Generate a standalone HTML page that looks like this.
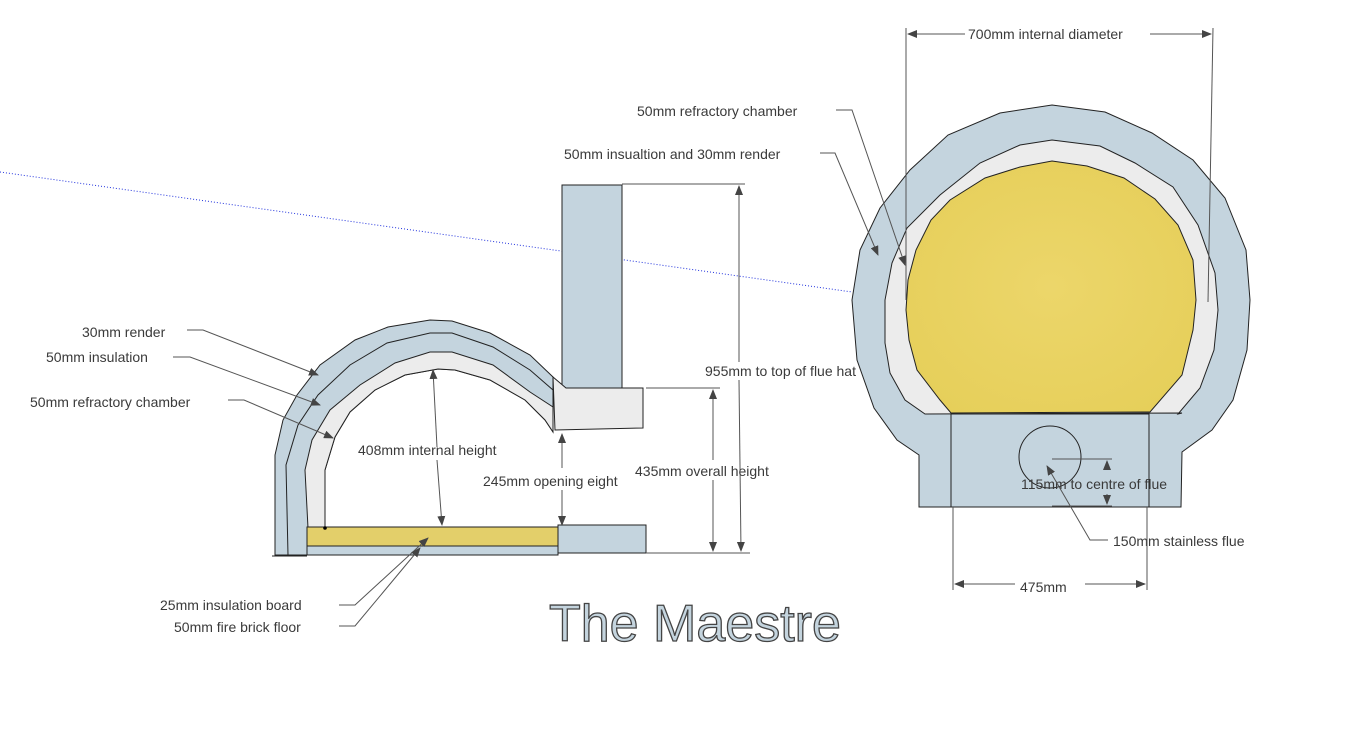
<!DOCTYPE html>
<html><head><meta charset="utf-8"><style>
html,body{margin:0;padding:0;background:#fff;}
svg{display:block;}
text{font-family:"Liberation Sans","DejaVu Sans",sans-serif;font-size:14px;fill:#3a3a3a;}
</style></head><body>
<svg width="1354" height="729" viewBox="0 0 1354 729" xmlns="http://www.w3.org/2000/svg">
<defs>
<marker id="a" markerWidth="10" markerHeight="8" refX="9" refY="4" orient="auto" markerUnits="userSpaceOnUse"><path d="M0,0 L10,4 L0,8 z" fill="#444"/></marker>
<radialGradient id="y" cx="50%" cy="50%" r="60%"><stop offset="0" stop-color="#ecd66a"/><stop offset="1" stop-color="#e6cf5a"/></radialGradient>
</defs>
<line x1="0" y1="172" x2="852" y2="292" stroke="#2233dd" stroke-width="1" stroke-dasharray="1,2"/>

<rect x="562" y="185" width="60" height="203" fill="#c4d4de" stroke="#222"/>
<path d="M275,555 L275,455 L283,420 L297,395 L320,365 L355,340 L388,327 L430,320 L452,321 L490,333 L530,355 L553,377 L553,432 L545,420 L525,400 L490,380 L455,370 L438,369 L405,375 L375,390 L350,412 L335,437 L325,470 L325,528 L307,528 L307,555 Z" fill="#c4d4de" stroke="#222"/>
<path d="M288,555 L286,465 L298,425 L318,395 L350,365 L387,343 L430,333 L452,333 L493,347 L530,370 L553,390" fill="none" stroke="#222"/>
<path d="M308,528 L305,470 L312,440 L330,410 L360,385 L395,363 L430,352 L452,352 L493,365 L530,392 L553,407 L553,432 L545,420 L525,400 L490,380 L455,370 L438,369 L405,375 L375,390 L350,412 L335,437 L325,470 L325,528 Z" fill="#ececec" stroke="#222"/>
<path d="M553,377 L566,388 L643,388 L643,428 L555,430 Z" fill="#ececec" stroke="#222"/>
<rect x="307" y="527" width="251" height="19" fill="#e3cf6a" stroke="#222"/>
<rect x="307" y="546" width="251" height="9" fill="#c4d4de" stroke="#222"/>
<rect x="558" y="525" width="88" height="28" fill="#c4d4de" stroke="#222"/>
<line x1="272" y1="556" x2="307" y2="556" stroke="#222"/>
<circle cx="325" cy="528" r="1.8" fill="#000"/>

<line x1="437" y1="447" x2="433" y2="370" stroke="#555" marker-end="url(#a)"/>
<line x1="437" y1="460" x2="442" y2="525" stroke="#555" marker-end="url(#a)"/>
<text x="358" y="455">408mm internal height</text>
<line x1="562" y1="468" x2="562" y2="434" stroke="#555" marker-end="url(#a)"/>
<line x1="562" y1="490" x2="562" y2="525" stroke="#555" marker-end="url(#a)"/>
<text x="483" y="486">245mm opening eight</text>
<line x1="646" y1="388" x2="720" y2="388" stroke="#555"/>
<line x1="646" y1="553" x2="750" y2="553" stroke="#555"/>
<line x1="622" y1="184" x2="745" y2="184" stroke="#555"/>
<line x1="713" y1="460" x2="713" y2="390" stroke="#555" marker-end="url(#a)"/>
<line x1="713" y1="480" x2="713" y2="551" stroke="#555" marker-end="url(#a)"/>
<text x="635" y="476">435mm overall height</text>
<line x1="739" y1="362" x2="739" y2="186" stroke="#555" marker-end="url(#a)"/>
<line x1="739" y1="380" x2="741" y2="551" stroke="#555" marker-end="url(#a)"/>
<text x="705" y="376">955mm to top of flue hat</text>

<text x="82" y="337">30mm render</text>
<polyline points="187,330 203,330 318,375" fill="none" stroke="#555" marker-end="url(#a)"/>
<text x="46" y="362">50mm insulation</text>
<polyline points="173,357 190,357 320,405" fill="none" stroke="#555" marker-end="url(#a)"/>
<text x="30" y="407">50mm refractory chamber</text>
<polyline points="228,400 244,400 333,438" fill="none" stroke="#555" marker-end="url(#a)"/>
<text x="160" y="610">25mm insulation board</text>
<polyline points="339,605 355,605 428,538" fill="none" stroke="#555" marker-end="url(#a)"/>
<text x="174" y="632">50mm fire brick floor</text>
<polyline points="339,626 355,626 420,548" fill="none" stroke="#555" marker-end="url(#a)"/>

<path d="M1052,105 L1105,112 L1152,133 L1193,160 L1225,198 L1246,250 L1250,300 L1247,350 L1233,400 L1212,430 L1182,452 L1181,507 L919,507 L919,455 L897,440 L874,408 L857,360 L852,300 L860,250 L880,208 L910,170 L948,135 L1000,113 Z" fill="#c4d4de" stroke="#222"/>
<path d="M1052,140 L1100,146 L1135,163 L1173,187 L1198,225 L1215,273 L1218,310 L1214,350 L1200,388 L1178,414 L1182,413 L925,414 L905,400 L890,373 L885,343 L885,300 L892,263 L907,228 L940,195 L980,163 L1020,145 Z" fill="#ececec" stroke="#222"/>
<path d="M1052,161 L1087,166 L1124,178 L1155,199 L1178,225 L1193,260 L1196,300 L1193,330 L1182,375 L1150,412 L951,413 L940,400 L917,370 L909,340 L906,310 L908,280 L916,250 L931,220 L950,200 L985,178 L1020,167 Z" fill="url(#y)" stroke="#222"/>
<rect x="951" y="414" width="198" height="93" fill="#c4d4de" stroke="#222"/>
<circle cx="1050" cy="457" r="31" fill="none" stroke="#222"/>

<line x1="906" y1="28" x2="906" y2="300" stroke="#555"/>
<line x1="1213" y1="28" x2="1208" y2="302" stroke="#555"/>
<line x1="965" y1="34" x2="908" y2="34" stroke="#555" marker-end="url(#a)"/>
<line x1="1150" y1="34" x2="1211" y2="34" stroke="#555" marker-end="url(#a)"/>
<text x="968" y="39">700mm internal diameter</text>
<text x="637" y="116">50mm refractory chamber</text>
<polyline points="836,110 852,110 905,265" fill="none" stroke="#555" marker-end="url(#a)"/>
<text x="564" y="159">50mm insualtion and 30mm render</text>
<polyline points="820,153 835,153 878,255" fill="none" stroke="#555" marker-end="url(#a)"/>
<line x1="1052" y1="459" x2="1112" y2="459" stroke="#555"/>
<line x1="1052" y1="506" x2="1112" y2="506" stroke="#555"/>
<line x1="1107" y1="470" x2="1107" y2="461" stroke="#555" marker-end="url(#a)"/>
<line x1="1107" y1="494" x2="1107" y2="504" stroke="#555" marker-end="url(#a)"/>
<text x="1021" y="489">115mm to centre of flue</text>
<polyline points="1108,540 1090,540 1047,466" fill="none" stroke="#555" marker-end="url(#a)"/>
<text x="1113" y="546">150mm stainless flue</text>
<line x1="953" y1="507" x2="953" y2="590" stroke="#555"/>
<line x1="1147" y1="507" x2="1147" y2="590" stroke="#555"/>
<line x1="1015" y1="584" x2="955" y2="584" stroke="#555" marker-end="url(#a)"/>
<line x1="1085" y1="584" x2="1145" y2="584" stroke="#555" marker-end="url(#a)"/>
<text x="1020" y="592">475mm</text>

<text x="549" y="641" style="font-size:52px;fill:#c4d4de;stroke:#444;stroke-width:1.3px;">The Maestre</text>
</svg>
</body></html>
